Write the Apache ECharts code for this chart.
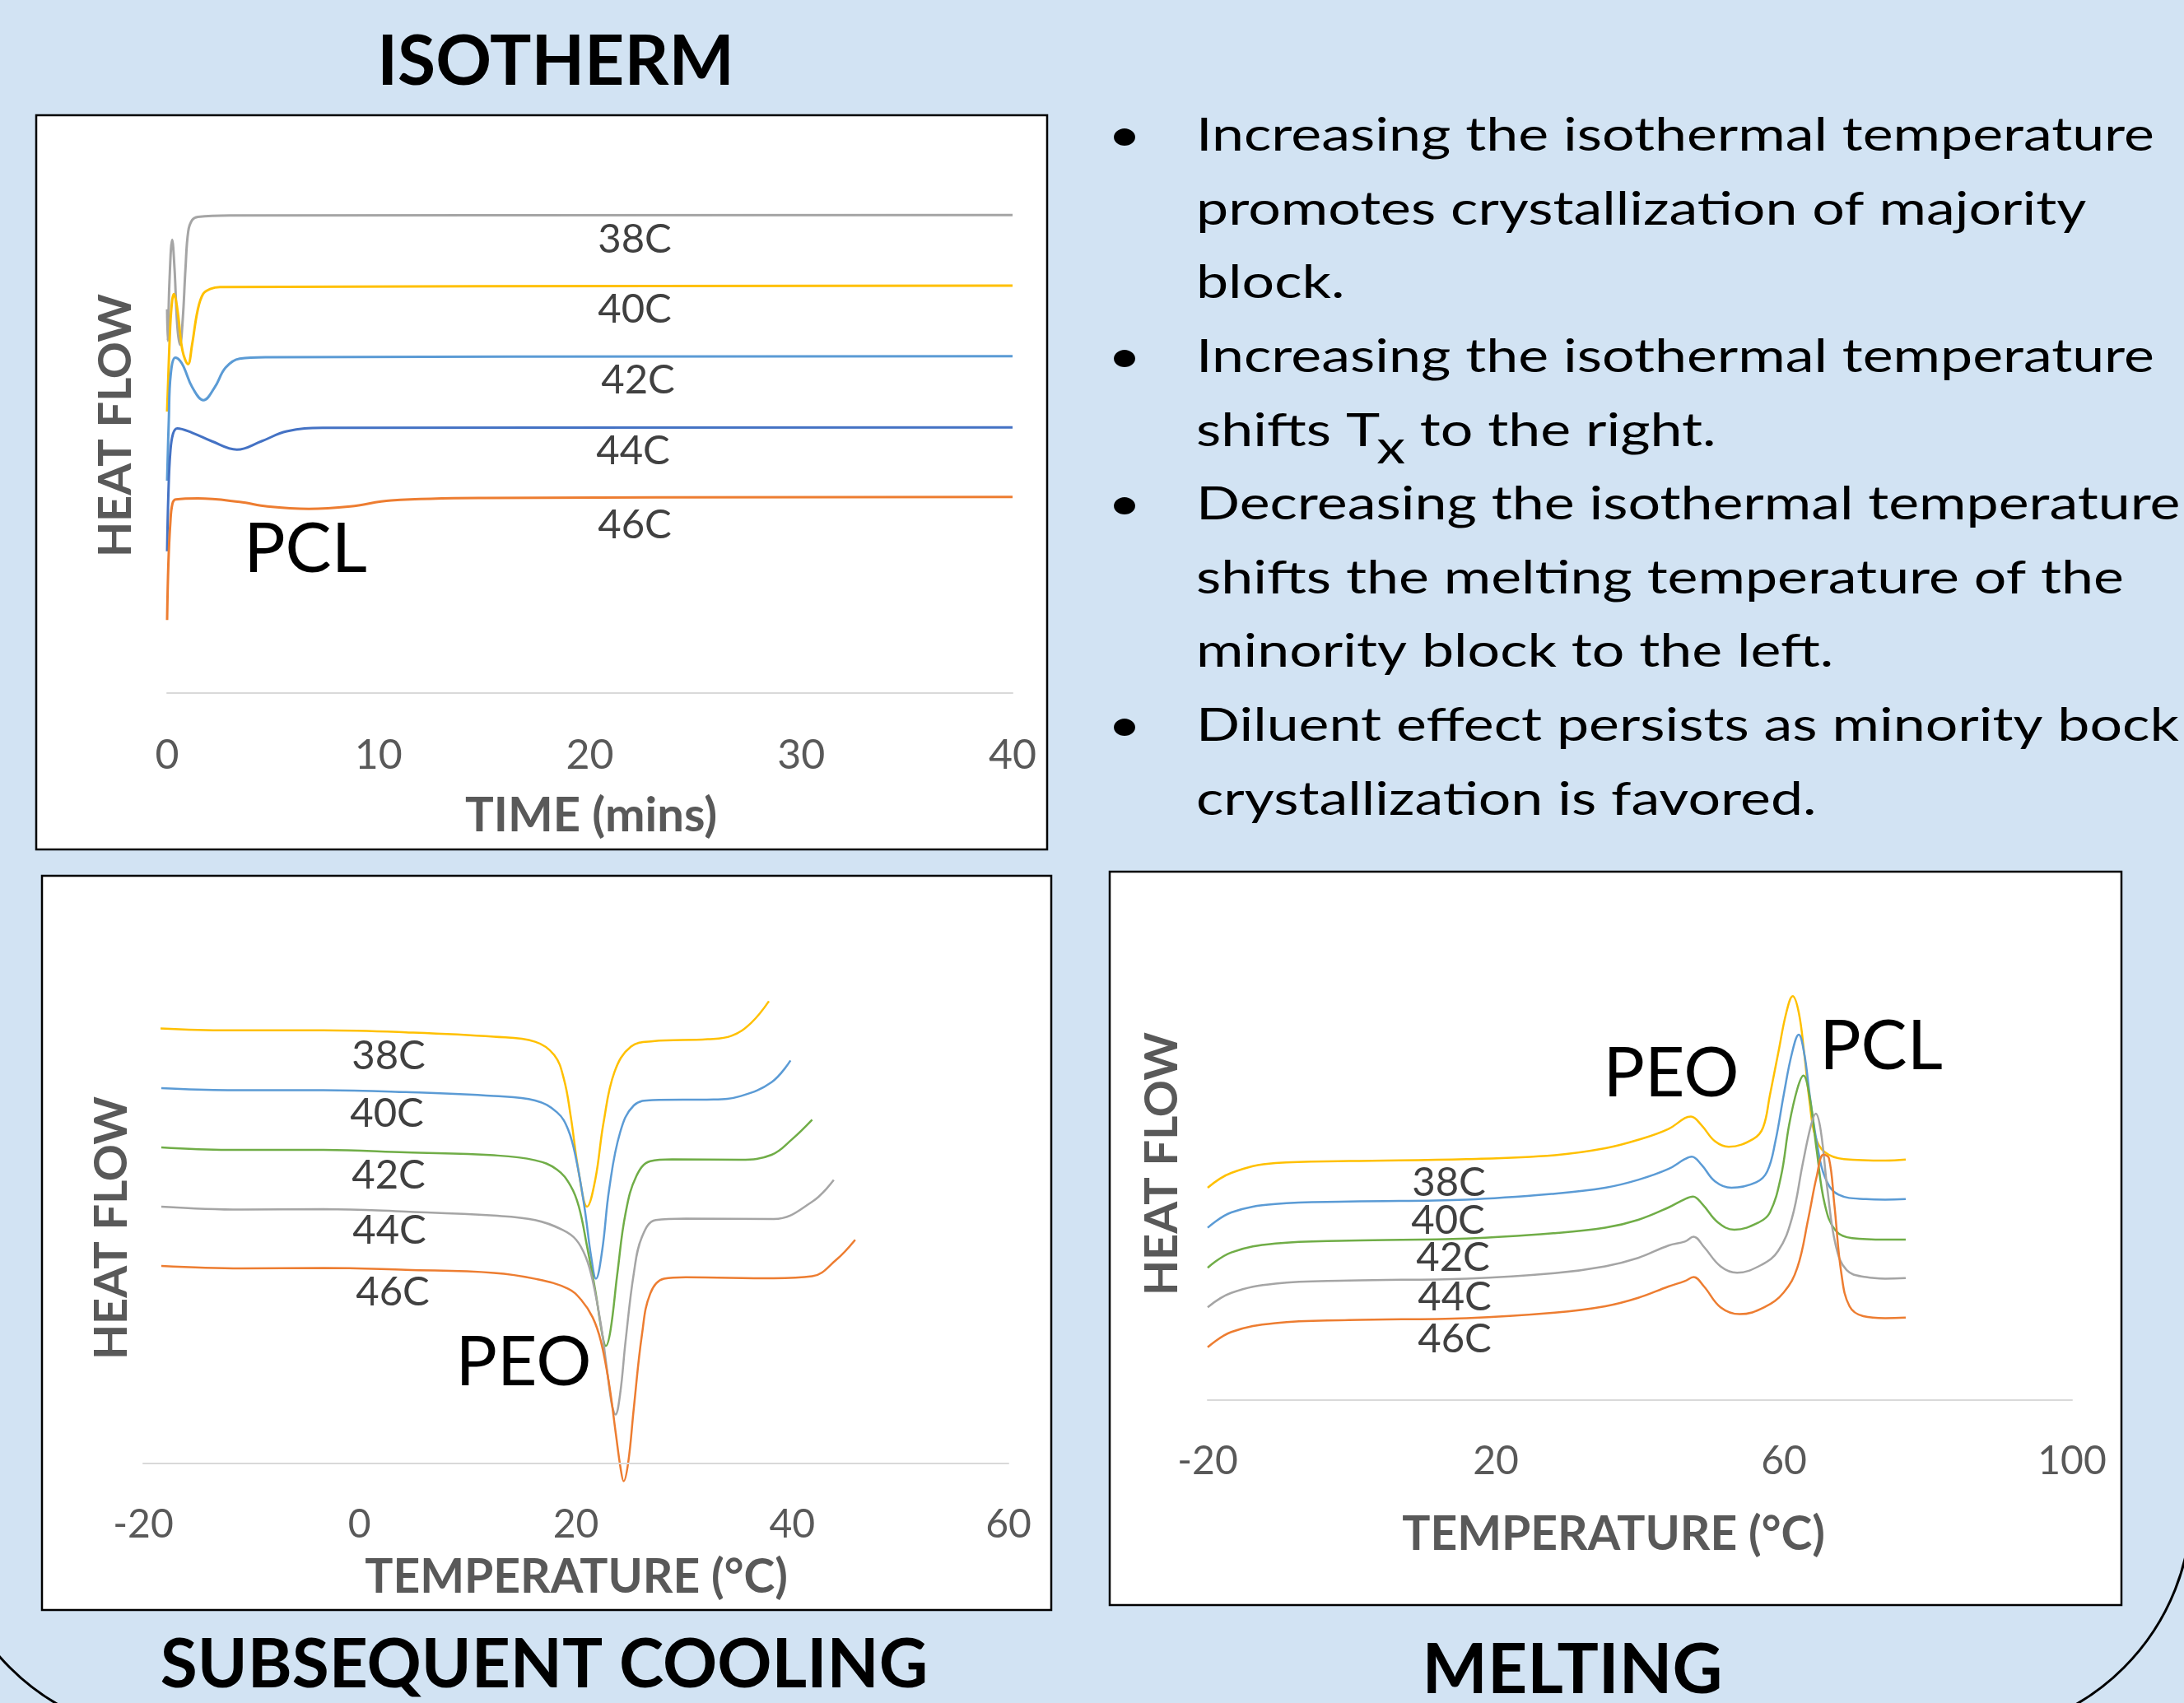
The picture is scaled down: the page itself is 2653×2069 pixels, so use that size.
<!DOCTYPE html>
<html>
<head>
<meta charset="utf-8">
<script src="https://cdn.jsdelivr.net/npm/echarts@6/dist/echarts.min.js"></script>
<style>
html,body{margin:0;padding:0;background:#d2e3f3;}
#c{width:2653px;height:2069px;}
</style>
</head>
<body>
<div id="c"></div>
<script>
// ---------- DATA ----------
// Isotherm (time in min, heat flow arbitrary units)
const isoTicks = [0, 10, 20, 30, 40];
const iso38 = [[0,7.77],[0.03,7.13],[0.11,8.32],[0.24,9.18],[0.35,8.6],[0.48,7.45],[0.61,7.05],[0.74,7.57],[0.87,8.6],[1.0,9.35],[1.19,9.58],[1.46,9.64],[3,9.67],[40,9.68]];
const iso40 = [[0,5.7],[0.03,6.07],[0.15,7.45],[0.24,7.95],[0.32,8.08],[0.41,7.97],[0.53,7.62],[0.73,6.93],[0.99,6.66],[1.18,7.05],[1.44,7.74],[1.7,8.08],[2.03,8.18],[2.5,8.22],[40,8.25]];
const iso42 = [[0,4.3],[0.08,5.53],[0.17,6.45],[0.39,6.79],[0.61,6.73],[0.8,6.59],[1.19,6.19],[1.72,5.93],[2.25,6.19],[2.77,6.59],[3.43,6.77],[4.7,6.8],[40,6.82]];
const iso44 = [[0,2.87],[0.06,4.03],[0.15,4.87],[0.28,5.25],[0.48,5.36],[1.19,5.27],[2.11,5.1],[3.3,4.93],[4.47,5.1],[5.66,5.3],[7.36,5.37],[40,5.38]];
const iso46 = [[0,1.48],[0.06,2.62],[0.15,3.43],[0.25,3.83],[0.41,3.92],[1.46,3.94],[3.43,3.87],[4.74,3.78],[6.7,3.73],[8.67,3.78],[10.6,3.9],[15,3.95],[40,3.97]];

// Subsequent cooling (temperature in C)
const coolTicks = [-20, 0, 20, 40, 60];
const cool38 = [[-18.4,8.81],[-12.18,8.77],[-3.33,8.77],[4.28,8.73],[12.42,8.64],[16.23,8.54],[18.0,8.27],[18.89,7.79],[19.52,7.04],[20.28,5.88],[21.04,5.2],[21.8,5.75],[22.56,6.9],[23.58,7.93],[25.1,8.44],[27.13,8.55],[32.2,8.59],[34.4,8.66],[36.2,8.92],[37.85,9.36]];
const cool40 = [[-18.33,7.6],[-12.18,7.56],[-3.33,7.56],[4.28,7.52],[12.42,7.44],[16.23,7.35],[18.26,7.11],[19.27,6.77],[20.03,6.16],[20.79,5.2],[21.42,4.18],[21.86,3.74],[22.44,4.32],[23.08,5.55],[24.09,6.7],[25.36,7.25],[27.13,7.36],[32.72,7.37],[35.25,7.44],[38.1,7.72],[39.85,8.16]];
const cool42 = [[-18.33,6.4],[-12.18,6.35],[-3.33,6.35],[4.28,6.3],[12.42,6.24],[16.23,6.14],[18.26,5.95],[19.52,5.62],[20.28,5.2],[21.04,4.39],[21.8,3.5],[22.44,2.62],[22.77,2.38],[23.2,2.69],[23.84,3.85],[24.6,5.07],[25.6,5.82],[26.88,6.12],[28.91,6.16],[35.25,6.15],[38.1,6.25],[39.97,6.56],[41.85,6.96]];
const cool44 = [[-18.33,5.2],[-10.92,5.14],[-3.33,5.15],[4.28,5.1],[12.42,5.02],[16.23,4.93],[18.76,4.73],[20.03,4.53],[20.92,4.18],[21.55,3.71],[22.31,2.82],[22.94,1.8],[23.33,1.19],[23.66,0.99],[24.09,1.4],[24.6,2.48],[25.36,3.85],[26.12,4.59],[27.39,4.93],[30.17,4.96],[38.3,4.95],[41.85,5.3],[43.85,5.74]];
const cool46 = [[-18.33,4.0],[-10.92,3.95],[-3.33,3.96],[4.28,3.92],[12.42,3.86],[16.23,3.74],[19.27,3.54],[20.54,3.3],[21.55,2.96],[22.31,2.48],[23.08,1.6],[23.71,0.58],[24.14,-0.1],[24.42,-0.36],[24.85,0.03],[25.36,1.12],[26.12,2.62],[26.88,3.44],[28.15,3.74],[30.17,3.77],[38.3,3.75],[41.85,3.79],[44.06,4.12],[45.83,4.53]];

// Melting (temperature in C)
const meltTicks = [-20, 20, 60, 100];
const melt38 = [[-20,4.3],[-16.72,4.6],[-10.6,4.8],[-0.39,4.84],[15.93,4.88],[28.18,4.96],[35.2,5.1],[39.77,5.27],[43.97,5.49],[46.25,5.71],[47.09,5.74],[48.54,5.57],[50.43,5.24],[52.34,5.13],[55.77,5.29],[57.11,5.52],[58.06,6.18],[59.2,7.02],[60.34,7.85],[61.22,8.18],[62.06,7.85],[62.82,7.02],[63.58,6.02],[64.34,5.35],[65.68,5.02],[68.34,4.88],[74.06,4.85],[76.91,4.87]];
const melt40 = [[-20,3.49],[-16.72,3.8],[-10.6,3.97],[-0.39,4.02],[15.93,4.06],[28.18,4.18],[35.2,4.3],[39.77,4.46],[43.97,4.68],[46.25,4.88],[47.2,4.93],[48.54,4.77],[50.43,4.43],[52.72,4.3],[56.15,4.41],[57.68,4.63],[58.82,5.24],[59.97,6.18],[61.11,7.02],[62.06,7.4],[62.82,7.02],[63.58,6.18],[64.54,5.24],[65.68,4.52],[67.58,4.16],[71.39,4.07],[74.06,4.06],[76.91,4.07]];
const melt42 = [[-20,2.68],[-16.72,2.99],[-10.6,3.17],[-0.39,3.23],[15.93,3.27],[28.18,3.38],[35.2,3.49],[39.77,3.65],[43.97,3.9],[46.25,4.07],[47.39,4.12],[48.72,3.96],[50.82,3.6],[53.11,3.45],[56.54,3.6],[58.06,3.8],[59.58,4.52],[60.72,5.57],[61.86,6.3],[62.71,6.57],[63.58,6.13],[64.54,5.07],[65.68,3.96],[67.2,3.43],[69.49,3.28],[74.06,3.25],[76.91,3.25]];
const melt44 = [[-20,1.88],[-16.72,2.17],[-10.6,2.36],[-0.39,2.42],[15.93,2.46],[28.18,2.57],[35.2,2.71],[39.77,2.88],[43.97,3.13],[46.25,3.21],[47.46,3.31],[48.91,3.1],[51.2,2.71],[53.49,2.58],[56.91,2.74],[59.2,3.02],[61.11,3.68],[62.63,4.8],[63.77,5.57],[64.42,5.8],[65.11,5.46],[66.06,4.24],[67.2,3.13],[68.72,2.63],[71.39,2.49],[74.06,2.46],[76.91,2.47]];
const melt46 = [[-20,1.07],[-16.72,1.38],[-10.6,1.56],[-0.39,1.62],[15.93,1.66],[28.18,1.77],[35.2,1.9],[39.77,2.07],[43.97,2.3],[46.25,2.41],[47.46,2.49],[48.91,2.3],[51.2,1.88],[53.86,1.74],[57.29,1.88],[59.97,2.18],[61.86,2.68],[63.39,3.68],[64.54,4.52],[65.49,4.97],[66.25,4.9],[67.0,3.96],[67.97,2.57],[69.11,1.9],[71.01,1.7],[74.06,1.66],[76.91,1.67]];

const seriesNames = ['38C', '40C', '42C', '44C', '46C'];
const bulletLines = [
  ['\u2022', 'Increasing the isothermal temperature'],
  ['', 'promotes crystallization of majority'],
  ['', 'block.'],
  ['\u2022', 'Increasing the isothermal temperature'],
  ['', 'shifts T|x| to the right.'],
  ['\u2022', 'Decreasing the isothermal temperature'],
  ['', 'shifts the melting temperature of the'],
  ['', 'minority block to the left.'],
  ['\u2022', 'Diluent effect persists as minority bock'],
  ['', 'crystallization is favored.']
];

// ---------- STYLE ----------
const C_GRAY = '#A5A5A5', C_YEL = '#FFC000', C_LBLUE = '#5B9BD5', C_BLUE = '#4472C4', C_ORG = '#ED7D31', C_GREEN = '#70AD47';
const FONT = 'Lato, "Open Sans", sans-serif';

function lineSeries(name, data, color, idx, width) {
  return {
    name: name, type: 'line', xAxisIndex: idx, yAxisIndex: idx, data: data,
    showSymbol: false, smooth: 0.4, clip: false, z: 3,
    lineStyle: { color: color, width: width }, itemStyle: { color: color },
    emphasis: { disabled: true }
  };
}
function xAxisCfg(idx, min, max, interval, margin, fs) {
  return {
    gridIndex: idx, type: 'value', min: min, max: max, interval: interval, z: 4,
    axisLine: { onZero: false, lineStyle: { color: '#d9d9d9', width: 2 } },
    axisTick: { show: false }, splitLine: { show: false },
    axisLabel: { margin: margin, verticalAlign: 'middle', fontSize: fs, color: '#595959', fontFamily: FONT }
  };
}
function txt(x, y, text, font, fill, extra) {
  return Object.assign({
    type: 'text', x: x, y: y, z: 10,
    style: { text: text, font: font, fill: fill, align: 'center', verticalAlign: 'middle', textAlign: 'center', textVerticalAlign: 'middle' }
  }, extra || {});
}
function measure(str, font) {
  const c = document.createElement('canvas').getContext('2d');
  c.font = font; return c.measureText(str).width;
}

const chart = echarts.init(document.getElementById('c'), null, { renderer: 'canvas', width: 2653, height: 2069 });

const graphics = [];
// decorative rounded panel outline (only bottom corners visible)
graphics.push({ type: 'rect', z: 0, shape: { x: -70, y: -400, width: 2732, height: 2508, r: 280 }, style: { fill: 'transparent', stroke: '#000', lineWidth: 3 } });
// chart boxes
[[44, 140, 1228, 892], [51, 1064, 1226, 892], [1348, 1059, 1229, 891]].forEach(function (b) {
  graphics.push({ type: 'rect', z: 1, shape: { x: b[0], y: b[1], width: b[2], height: b[3] }, style: { fill: '#ffffff', stroke: '#000', lineWidth: 2.5 } });
});
// titles
graphics.push(txt(675, 76, 'ISOTHERM', 'bold 84px ' + FONT, '#000'));
graphics.push(txt(661, 2024, 'SUBSEQUENT COOLING', 'bold 82px ' + FONT, '#000'));
graphics.push(txt(1910, 2030, 'MELTING', 'bold 84px ' + FONT, '#000'));
// axis titles
const AX_FONT = 'bold 57px ' + FONT;
graphics.push(txt(718, 991, 'TIME (mins)', 'bold 58px ' + FONT, '#595959'));
graphics.push(txt(700, 1917, 'TEMPERATURE (\u00B0C)', AX_FONT, '#595959'));
graphics.push(txt(1960, 1865, 'TEMPERATURE (\u00B0C)', AX_FONT, '#595959'));
const HF_FONT = 'bold 56px ' + FONT;
[[141, 517], [136, 1492], [1412, 1414]].forEach(function (p) {
  graphics.push(txt(p[0], p[1], 'HEAT FLOW', HF_FONT, '#595959', { rotation: Math.PI / 2 }));
});
// series labels
const LBL_FONT = '49px ' + FONT;
const isoLbl = [[771, 291], [771, 376], [775, 462], [769, 548], [771, 638]];
const coolLbl = [[472, 1283], [470, 1353], [472, 1428], [473, 1495], [477, 1570]];
const meltLbl = [[1760, 1437], [1759, 1483], [1765, 1528], [1767, 1576], [1767, 1627]];
[isoLbl, coolLbl, meltLbl].forEach(function (arr) {
  arr.forEach(function (p, i) { graphics.push(txt(p[0], p[1], seriesNames[i], LBL_FONT, '#404040')); });
});
const BIG_FONT = '84px ' + FONT;
graphics.push(txt(371, 668, 'PCL', BIG_FONT, '#000'));
graphics.push(txt(636, 1656, 'PEO', BIG_FONT, '#000'));
graphics.push(txt(2030, 1305, 'PEO', BIG_FONT, '#000'));
graphics.push(txt(2285, 1272, 'PCL', BIG_FONT, '#000'));

// bullet text block (text is horizontally stretched in the reference)
const B_FS = 57;
const B_FONT = B_FS + 'px ' + FONT;
const textX = 1453, bulletX = 1366, base0 = 186, lineStep = 89.6;
const SX = 1164 / measure(bulletLines[0][1], B_FONT);
function ltxt(x, baseline, text, align) {
  return { type: 'text', x: x, y: baseline - 0.37 * B_FS, z: 10, scaleX: SX,
    style: { text: text, font: B_FONT, fill: '#000', align: align, verticalAlign: 'middle', textAlign: align, textVerticalAlign: 'middle' } };
}
bulletLines.forEach(function (ln, i) {
  const bl = base0 + i * lineStep;
  if (ln[0]) graphics.push(ltxt(bulletX, bl, ln[0], 'center'));
  if (ln[1].indexOf('|') >= 0) {
    const parts = ln[1].split('|');
    const w0 = measure(parts[0], B_FONT) * SX;
    graphics.push(ltxt(textX, bl, parts[0], 'left'));
    const subX = textX + w0 - 4;
    graphics.push(ltxt(subX, bl + 21, parts[1], 'left'));
    const w1 = measure(parts[1], B_FONT) * SX;
    graphics.push(ltxt(subX + w1, bl, parts[2], 'left'));
  } else {
    graphics.push(ltxt(textX, bl, ln[1], 'left'));
  }
});

const option = {
  backgroundColor: '#d2e3f3',
  animation: false,
  grid: [
    { left: 203, top: 182, width: 1027, height: 660 },
    { left: 174, top: 1178, width: 1051, height: 600 },
    { left: 1467, top: 1161, width: 1050, height: 540 }
  ],
  xAxis: [
    xAxisCfg(0, isoTicks[0], isoTicks[isoTicks.length - 1], 10, 76, 50),
    xAxisCfg(1, coolTicks[0], coolTicks[coolTicks.length - 1], 20, 75, 48),
    xAxisCfg(2, meltTicks[0], meltTicks[meltTicks.length - 1], 40, 75, 48)
  ],
  yAxis: [
    { gridIndex: 0, type: 'value', min: 0, max: 11, show: false },
    { gridIndex: 1, type: 'value', min: 0, max: 10, show: false },
    { gridIndex: 2, type: 'value', min: 0, max: 9, show: false }
  ],
  series: [
    lineSeries('Iso 38C', iso38, C_GRAY, 0, 3),
    lineSeries('Iso 40C', iso40, C_YEL, 0, 3),
    lineSeries('Iso 42C', iso42, C_LBLUE, 0, 3),
    lineSeries('Iso 44C', iso44, C_BLUE, 0, 3),
    lineSeries('Iso 46C', iso46, C_ORG, 0, 3),
    lineSeries('Cool 38C', cool38, C_YEL, 1, 2.5),
    lineSeries('Cool 40C', cool40, C_LBLUE, 1, 2.5),
    lineSeries('Cool 42C', cool42, C_GREEN, 1, 2.5),
    lineSeries('Cool 44C', cool44, C_GRAY, 1, 2.5),
    lineSeries('Cool 46C', cool46, C_ORG, 1, 2.5),
    lineSeries('Melt 38C', melt38, C_YEL, 2, 2.5),
    lineSeries('Melt 40C', melt40, C_LBLUE, 2, 2.5),
    lineSeries('Melt 42C', melt42, C_GREEN, 2, 2.5),
    lineSeries('Melt 44C', melt44, C_GRAY, 2, 2.5),
    lineSeries('Melt 46C', melt46, C_ORG, 2, 2.5)
  ],
  graphic: { elements: graphics }
};
chart.setOption(option);
</script>
</body>
</html>
